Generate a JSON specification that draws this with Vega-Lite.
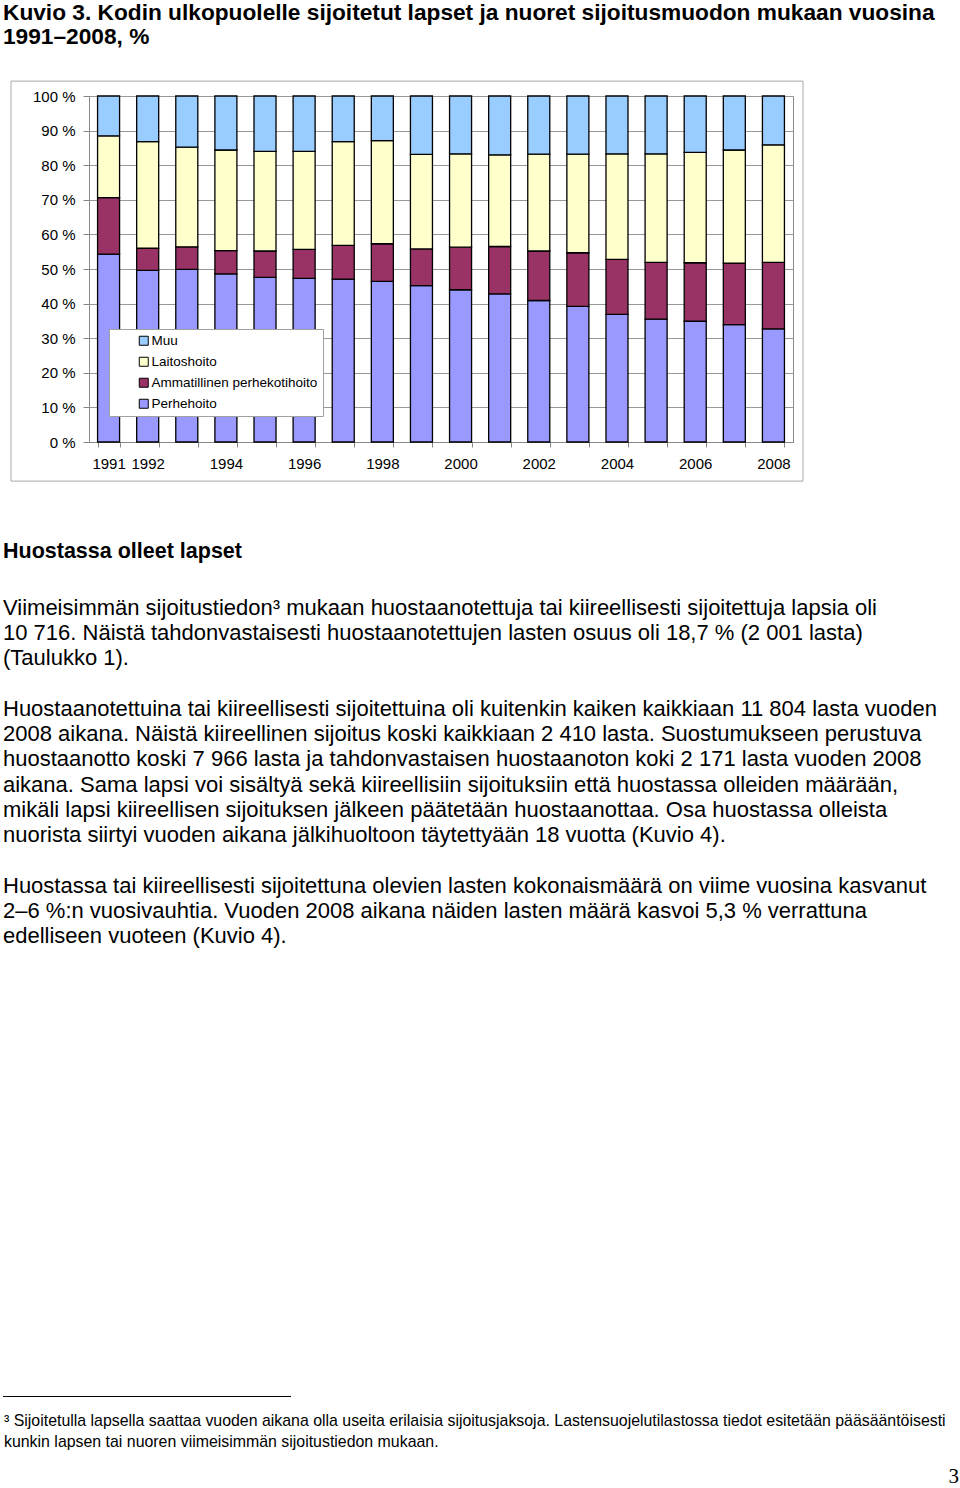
{
  "$schema": "https://vega.github.io/schema/vega-lite/v6.json",
  "background": "white",
  "padding": {"left": 2, "top": 2, "right": 0, "bottom": 0},
  "spacing": 31,
  "config": {"font": "Liberation Sans", "view": {"stroke": null}},
  "resolve": {"legend": {"color": "independent"}},
  "vconcat": [
    {
      "width": 704,
      "height": 24,
      "data": {"values": [
        {"line": 0, "text": "Kuvio 3.  Kodin ulkopuolelle sijoitetut lapset ja nuoret sijoitusmuodon mukaan vuosina"},
        {"line": 1, "text": "1991–2008, %"}
      ]},
      "mark": {"type": "text", "align": "left", "baseline": "middle", "fontSize": 22.7, "fontWeight": "bold", "color": "black"},
      "encoding": {
        "x": {"datum": 2, "type": "quantitative", "scale": {"domain": [0, 960], "range": [-88, 872], "nice": false, "zero": false}, "axis": null},
        "y": {"field": "line", "type": "quantitative", "scale": {"domain": [0, 1], "reverse": true, "nice": false, "zero": false}, "axis": null},
        "text": {"field": "text"}
      }
    },
    {
      "width": 704,
      "height": 346,
      "view": {"stroke": "#888888", "strokeWidth": 1},
      "resolve": {"scale": {"x": "independent"}, "axis": {"x": "independent"}},
      "layer": [
        {
          "data": {"values": [
            {"year": 1991, "cat": "Perhehoito", "pct": 54.3}, {"year": 1991, "cat": "Ammatillinen perhekotihoito", "pct": 16.3}, {"year": 1991, "cat": "Laitoshoito", "pct": 17.9}, {"year": 1991, "cat": "Muu", "pct": 11.5},
            {"year": 1992, "cat": "Perhehoito", "pct": 49.6}, {"year": 1992, "cat": "Ammatillinen perhekotihoito", "pct": 6.4}, {"year": 1992, "cat": "Laitoshoito", "pct": 30.8}, {"year": 1992, "cat": "Muu", "pct": 13.2},
            {"year": 1993, "cat": "Perhehoito", "pct": 49.9}, {"year": 1993, "cat": "Ammatillinen perhekotihoito", "pct": 6.5}, {"year": 1993, "cat": "Laitoshoito", "pct": 28.8}, {"year": 1993, "cat": "Muu", "pct": 14.8},
            {"year": 1994, "cat": "Perhehoito", "pct": 48.6}, {"year": 1994, "cat": "Ammatillinen perhekotihoito", "pct": 6.7}, {"year": 1994, "cat": "Laitoshoito", "pct": 29.1}, {"year": 1994, "cat": "Muu", "pct": 15.6},
            {"year": 1995, "cat": "Perhehoito", "pct": 47.6}, {"year": 1995, "cat": "Ammatillinen perhekotihoito", "pct": 7.6}, {"year": 1995, "cat": "Laitoshoito", "pct": 28.8}, {"year": 1995, "cat": "Muu", "pct": 16.0},
            {"year": 1996, "cat": "Perhehoito", "pct": 47.3}, {"year": 1996, "cat": "Ammatillinen perhekotihoito", "pct": 8.4}, {"year": 1996, "cat": "Laitoshoito", "pct": 28.3}, {"year": 1996, "cat": "Muu", "pct": 16.0},
            {"year": 1997, "cat": "Perhehoito", "pct": 47.1}, {"year": 1997, "cat": "Ammatillinen perhekotihoito", "pct": 9.7}, {"year": 1997, "cat": "Laitoshoito", "pct": 30.0}, {"year": 1997, "cat": "Muu", "pct": 13.2},
            {"year": 1998, "cat": "Perhehoito", "pct": 46.4}, {"year": 1998, "cat": "Ammatillinen perhekotihoito", "pct": 10.9}, {"year": 1998, "cat": "Laitoshoito", "pct": 29.8}, {"year": 1998, "cat": "Muu", "pct": 12.9},
            {"year": 1999, "cat": "Perhehoito", "pct": 45.2}, {"year": 1999, "cat": "Ammatillinen perhekotihoito", "pct": 10.6}, {"year": 1999, "cat": "Laitoshoito", "pct": 27.3}, {"year": 1999, "cat": "Muu", "pct": 16.9},
            {"year": 2000, "cat": "Perhehoito", "pct": 44.0}, {"year": 2000, "cat": "Ammatillinen perhekotihoito", "pct": 12.3}, {"year": 2000, "cat": "Laitoshoito", "pct": 27.0}, {"year": 2000, "cat": "Muu", "pct": 16.7},
            {"year": 2001, "cat": "Perhehoito", "pct": 42.8}, {"year": 2001, "cat": "Ammatillinen perhekotihoito", "pct": 13.7}, {"year": 2001, "cat": "Laitoshoito", "pct": 26.5}, {"year": 2001, "cat": "Muu", "pct": 17.0},
            {"year": 2002, "cat": "Perhehoito", "pct": 40.9}, {"year": 2002, "cat": "Ammatillinen perhekotihoito", "pct": 14.3}, {"year": 2002, "cat": "Laitoshoito", "pct": 28.0}, {"year": 2002, "cat": "Muu", "pct": 16.8},
            {"year": 2003, "cat": "Perhehoito", "pct": 39.2}, {"year": 2003, "cat": "Ammatillinen perhekotihoito", "pct": 15.5}, {"year": 2003, "cat": "Laitoshoito", "pct": 28.5}, {"year": 2003, "cat": "Muu", "pct": 16.8},
            {"year": 2004, "cat": "Perhehoito", "pct": 36.9}, {"year": 2004, "cat": "Ammatillinen perhekotihoito", "pct": 15.9}, {"year": 2004, "cat": "Laitoshoito", "pct": 30.5}, {"year": 2004, "cat": "Muu", "pct": 16.7},
            {"year": 2005, "cat": "Perhehoito", "pct": 35.5}, {"year": 2005, "cat": "Ammatillinen perhekotihoito", "pct": 16.4}, {"year": 2005, "cat": "Laitoshoito", "pct": 31.4}, {"year": 2005, "cat": "Muu", "pct": 16.7},
            {"year": 2006, "cat": "Perhehoito", "pct": 34.9}, {"year": 2006, "cat": "Ammatillinen perhekotihoito", "pct": 16.9}, {"year": 2006, "cat": "Laitoshoito", "pct": 31.9}, {"year": 2006, "cat": "Muu", "pct": 16.3},
            {"year": 2007, "cat": "Perhehoito", "pct": 33.9}, {"year": 2007, "cat": "Ammatillinen perhekotihoito", "pct": 17.8}, {"year": 2007, "cat": "Laitoshoito", "pct": 32.7}, {"year": 2007, "cat": "Muu", "pct": 15.6},
            {"year": 2008, "cat": "Perhehoito", "pct": 32.7}, {"year": 2008, "cat": "Ammatillinen perhekotihoito", "pct": 19.2}, {"year": 2008, "cat": "Laitoshoito", "pct": 34.0}, {"year": 2008, "cat": "Muu", "pct": 14.1}
          ]},
          "transform": [
            {"calculate": "indexof(['Perhehoito', 'Ammatillinen perhekotihoito', 'Laitoshoito', 'Muu'], datum.cat)", "as": "stackOrder"}
          ],
          "mark": {"type": "bar", "stroke": "black", "strokeWidth": 1.3},
          "encoding": {
            "x": {
              "field": "year", "type": "ordinal",
              "scale": {"paddingInner": 0.437, "paddingOuter": 0.219},
              "axis": {
                "title": null, "labelAngle": 0, "tickBand": "extent", "tickSize": 5, "tickColor": "#888888", "domainColor": "#888888",
                "labelExpr": "(datum.value % 2 == 0 || datum.value == 1991) ? datum.label : ''",
                "labelFontSize": 15, "labelPadding": 9, "labelColor": "black"
              }
            },
            "y": {
              "field": "pct", "type": "quantitative", "stack": "zero",
              "scale": {"domain": [0, 100], "nice": false},
              "axis": {
                "title": null, "values": [0, 10, 20, 30, 40, 50, 60, 70, 80, 90, 100], "labelOverlap": false, "tickCount": 11,
                "labelExpr": "datum.value + ' %'", "grid": true, "gridColor": "#999999",
                "tickSize": 6, "tickColor": "#888888", "domainColor": "#888888",
                "labelFontSize": 15, "labelPadding": 8, "labelColor": "black"
              }
            },
            "order": {"field": "stackOrder", "type": "quantitative", "sort": "ascending"},
            "color": {
              "field": "cat", "type": "nominal",
              "scale": {"domain": ["Perhehoito", "Ammatillinen perhekotihoito", "Laitoshoito", "Muu"], "range": ["#9999FF", "#993366", "#FFFFCC", "#99CCFF"]},
              "legend": {
                "title": null, "values": ["Muu", "Laitoshoito", "Ammatillinen perhekotihoito", "Perhehoito"],
                "orient": "none", "legendX": 20, "legendY": 233,
                "fillColor": "white", "strokeColor": "#a0a0a0", "padding": 5,
                "symbolType": "square", "symbolSize": 81, "symbolStrokeColor": "black", "symbolStrokeWidth": 1,
                "symbolOffset": 23, "labelFontSize": 13.5, "labelColor": "black", "labelLimit": 400, "rowPadding": 6, "labelOffset": 1
              }
            }
          }
        },
        {
          "data": {"values": [{"frame": "chart"}]},
          "mark": {"type": "rect", "fill": "white", "fillOpacity": 0, "stroke": "#a8a8a8", "strokeWidth": 1},
          "encoding": {
            "x": {"datum": -78, "type": "quantitative", "scale": {"domain": [0, 704], "nice": false, "zero": false}, "axis": null},
            "x2": {"datum": 714},
            "y": {"datum": 104.3, "type": "quantitative"},
            "y2": {"datum": -11.3}
          }
        }
      ]
    },
    {
      "width": 704,
      "height": 971,
      "data": {"values": [
        {"kind": "heading", "line": 0, "text": "Huostassa olleet lapset"},
        {"kind": "paragraph", "line": 2.2, "text": "Viimeisimmän sijoitustiedon³ mukaan huostaanotettuja tai kiireellisesti sijoitettuja lapsia oli"},
        {"kind": "paragraph", "line": 3.2, "text": "10 716. Näistä tahdonvastaisesti huostaanotettujen lasten osuus oli 18,7 % (2 001 lasta)"},
        {"kind": "paragraph", "line": 4.2, "text": "(Taulukko 1)."},
        {"kind": "paragraph", "line": 6.2, "text": "Huostaanotettuina tai kiireellisesti sijoitettuina oli kuitenkin kaiken kaikkiaan 11 804 lasta vuoden"},
        {"kind": "paragraph", "line": 7.2, "text": "2008 aikana. Näistä kiireellinen sijoitus koski kaikkiaan 2 410 lasta.  Suostumukseen perustuva"},
        {"kind": "paragraph", "line": 8.2, "text": "huostaanotto koski 7 966 lasta ja tahdonvastaisen huostaanoton koki 2 171 lasta vuoden 2008"},
        {"kind": "paragraph", "line": 9.2, "text": "aikana. Sama lapsi voi sisältyä sekä kiireellisiin sijoituksiin että huostassa olleiden määrään,"},
        {"kind": "paragraph", "line": 10.2, "text": "mikäli lapsi kiireellisen sijoituksen jälkeen päätetään huostaanottaa. Osa huostassa olleista"},
        {"kind": "paragraph", "line": 11.2, "text": "nuorista siirtyi vuoden aikana jälkihuoltoon täytettyään 18 vuotta (Kuvio 4)."},
        {"kind": "paragraph", "line": 13.2, "text": "Huostassa tai kiireellisesti sijoitettuna olevien lasten kokonaismäärä on viime vuosina kasvanut"},
        {"kind": "paragraph", "line": 14.2, "text": "2–6 %:n vuosivauhtia. Vuoden 2008 aikana näiden lasten määrä kasvoi 5,3 % verrattuna"},
        {"kind": "paragraph", "line": 15.2, "text": "edelliseen vuoteen (Kuvio 4)."},
        {"kind": "footnote", "line": 34.35, "text": "³ Sijoitetulla lapsella saattaa vuoden aikana olla useita erilaisia sijoitusjaksoja. Lastensuojelutilastossa tiedot esitetään pääsääntöisesti"},
        {"kind": "footnote", "line": 35.18, "text": "kunkin lapsen tai nuoren viimeisimmän sijoitustiedon mukaan."},
        {"kind": "pagenumber", "line": 36.6, "text": "3"}
      ]},
      "layer": [
        {
          "transform": [{"filter": "datum.kind == 'heading'"}],
          "mark": {"type": "text", "align": "left", "baseline": "middle", "fontSize": 21.5, "fontWeight": "bold", "color": "black"},
          "encoding": {
            "x": {"datum": 2, "type": "quantitative", "scale": {"domain": [0, 960], "range": [-88, 872], "nice": false, "zero": false}, "axis": null},
            "y": {"field": "line", "type": "quantitative", "scale": {"domain": [-1.5, 36.9], "reverse": true, "nice": false, "zero": false}, "axis": null},
            "text": {"field": "text"}
          }
        },
        {
          "transform": [{"filter": "datum.kind == 'paragraph'"}],
          "mark": {"type": "text", "align": "left", "baseline": "middle", "fontSize": 22, "color": "black"},
          "encoding": {
            "x": {"datum": 2, "type": "quantitative"},
            "y": {"field": "line", "type": "quantitative"},
            "text": {"field": "text"}
          }
        },
        {
          "transform": [{"filter": "datum.kind == 'footnote'"}],
          "mark": {"type": "text", "align": "left", "baseline": "middle", "fontSize": 15.9, "color": "black"},
          "encoding": {
            "x": {"datum": 3, "type": "quantitative"},
            "y": {"field": "line", "type": "quantitative"},
            "text": {"field": "text"}
          }
        },
        {
          "transform": [{"filter": "datum.kind == 'pagenumber'"}],
          "mark": {"type": "text", "align": "right", "baseline": "middle", "fontSize": 21, "font": "Liberation Serif", "color": "black"},
          "encoding": {
            "x": {"datum": 958, "type": "quantitative"},
            "y": {"field": "line", "type": "quantitative"},
            "text": {"field": "text"}
          }
        },
        {
          "data": {"values": [{"separator": "footnote"}]},
          "mark": {"type": "rule", "color": "black", "strokeWidth": 1},
          "encoding": {
            "x": {"datum": 2, "type": "quantitative"},
            "x2": {"datum": 290},
            "y": {"datum": 33.4, "type": "quantitative"}
          }
        }
      ]
    }
  ]
}
